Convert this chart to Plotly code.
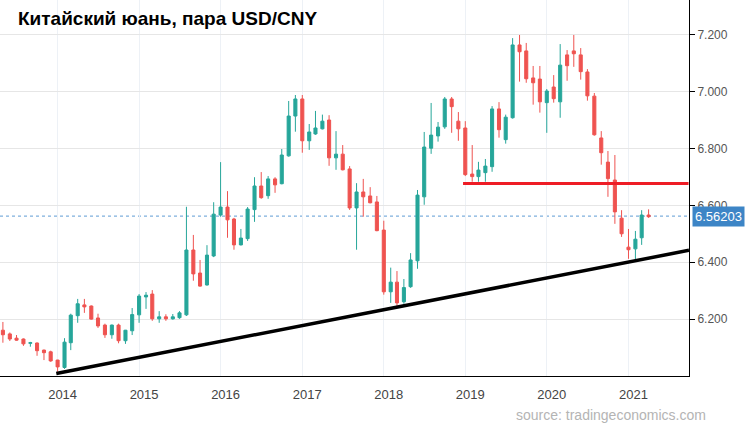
import pandas as pd
import plotly.graph_objects as go

# Monthly candles, May 2013 .. Apr 2021
months = pd.date_range("2013-05-01", periods=96, freq="MS")
opens = [6.161, 6.148, 6.133, 6.130, 6.115, 6.116, 6.091, 6.085,
         6.056, 6.030, 6.117, 6.212, 6.250, 6.246, 6.204, 6.179, 6.145, 6.179, 6.124, 6.159,
         6.215, 6.278, 6.288, 6.201, 6.208, 6.201, 6.205, 6.215, 6.443, 6.362, 6.320, 6.422,
         6.566, 6.594, 6.552, 6.461, 6.483, 6.585, 6.668, 6.634, 6.693, 6.676, 6.774, 6.914,
         6.974, 6.827, 6.851, 6.869, 6.900, 6.767, 6.780, 6.728, 6.591, 6.647, 6.633, 6.612,
         6.513, 6.296, 6.330, 6.261, 6.314, 6.405, 6.630, 6.801, 6.844, 6.876, 6.974, 6.896,
         6.872, 6.710, 6.701, 6.715, 6.736, 6.939, 6.831, 6.908, 7.164, 7.143, 7.048, 7.044,
         6.961, 7.016, 6.964, 7.129, 7.143, 7.129, 7.069, 6.984, 6.837, 6.752, 6.689, 6.555,
         6.453, 6.447, 6.486, 6.566]
highs = [6.190, 6.153, 6.144, 6.132, 6.120, 6.118, 6.093, 6.089,
         6.057, 6.133, 6.219, 6.271, 6.271, 6.248, 6.219, 6.184, 6.181, 6.184, 6.162, 6.239,
         6.288, 6.295, 6.302, 6.228, 6.217, 6.218, 6.228, 6.595, 6.496, 6.408, 6.460, 6.611,
         6.752, 6.650, 6.556, 6.517, 6.594, 6.699, 6.717, 6.703, 6.699, 6.798, 6.967, 6.988,
         6.988, 6.886, 6.932, 6.919, 6.917, 6.861, 6.812, 6.738, 6.678, 6.693, 6.664, 6.633,
         6.546, 6.381, 6.369, 6.341, 6.432, 6.654, 6.858, 6.960, 6.893, 6.981, 6.981, 6.928,
         6.896, 6.812, 6.753, 6.763, 6.949, 6.963, 6.919, 7.188, 7.199, 7.171, 7.090, 7.090,
         7.009, 7.058, 7.167, 7.146, 7.199, 7.153, 7.079, 6.995, 6.861, 6.791, 6.777, 6.583,
         6.517, 6.510, 6.583, 6.586]
lows = [6.117, 6.123, 6.124, 6.106, 6.103, 6.071, 6.056, 6.050,
        6.015, 6.025, 6.091, 6.187, 6.222, 6.198, 6.169, 6.134, 6.131, 6.115, 6.113, 6.144,
        6.187, 6.236, 6.194, 6.187, 6.194, 6.198, 6.201, 6.211, 6.335, 6.314, 6.318, 6.418,
        6.560, 6.486, 6.444, 6.459, 6.475, 6.542, 6.623, 6.623, 6.644, 6.674, 6.771, 6.859,
        6.785, 6.795, 6.848, 6.867, 6.739, 6.725, 6.723, 6.584, 6.444, 6.560, 6.607, 6.509,
        6.286, 6.257, 6.243, 6.254, 6.310, 6.377, 6.602, 6.781, 6.824, 6.869, 6.855, 6.827,
        6.703, 6.683, 6.683, 6.683, 6.718, 6.838, 6.817, 6.905, 7.035, 7.031, 6.954, 6.926,
        6.855, 6.961, 6.908, 7.038, 7.087, 7.042, 6.968, 6.845, 6.743, 6.630, 6.535, 6.489,
        6.412, 6.405, 6.461, 6.556]
closes = [6.145, 6.130, 6.126, 6.113, 6.117, 6.089, 6.082, 6.053,
          6.032, 6.119, 6.214, 6.254, 6.243, 6.200, 6.176, 6.145, 6.179, 6.124, 6.161, 6.216,
          6.281, 6.284, 6.201, 6.208, 6.201, 6.208, 6.222, 6.443, 6.359, 6.316, 6.425, 6.569,
          6.594, 6.549, 6.461, 6.485, 6.587, 6.668, 6.627, 6.693, 6.672, 6.777, 6.914, 6.974,
          6.827, 6.858, 6.872, 6.896, 6.767, 6.780, 6.725, 6.591, 6.647, 6.630, 6.609, 6.511,
          6.296, 6.330, 6.257, 6.311, 6.408, 6.636, 6.805, 6.847, 6.875, 6.974, 6.947, 6.869,
          6.708, 6.701, 6.724, 6.738, 6.939, 6.866, 6.910, 7.164, 7.140, 7.045, 7.031, 6.964,
          7.002, 6.975, 7.093, 7.091, 7.133, 7.070, 6.985, 6.848, 6.785, 6.694, 6.577, 6.500,
          6.444, 6.481, 6.566, 6.560]

last_price = 6.56203
resistance = 6.677
support_start = ("2013-12-26", 6.009)
support_end = ("2021-09-29", 6.442)
resistance_x = ("2018-12-22", "2021-09-27")

year_ticks = [f"{y}-01-01" for y in range(2014, 2022)]
year_labels = [str(y) for y in range(2014, 2022)]
y_ticks = [6.2, 6.4, 6.6, 6.8, 7.0, 7.2]
y_labels = ["6.200", "6.400", "6.600", "6.800", "7.000", "7.200"]

GREEN = "#26a69a"
RED = "#ef5350"
FONT = "Liberation Sans, Arial, sans-serif"

fig = go.Figure()
fig.add_trace(go.Candlestick(
    x=months, open=opens, high=highs, low=lows, close=closes,
    increasing=dict(line=dict(color=GREEN, width=1), fillcolor=GREEN),
    decreasing=dict(line=dict(color=RED, width=1), fillcolor=RED),
    hoverinfo="skip", showlegend=False,
))

# last price dotted line
fig.add_shape(type="line", xref="paper", yref="y", x0=0, x1=1,
              y0=last_price, y1=last_price,
              line=dict(color="#7fb0dd", width=1.2, dash="dot"), layer="below")
# resistance
fig.add_shape(type="line", xref="x", yref="y", x0=resistance_x[0], x1=resistance_x[1],
              y0=resistance, y1=resistance, line=dict(color="#ee1c25", width=3))
# support trendline
fig.add_shape(type="line", xref="x", yref="y",
              x0=support_start[0], y0=support_start[1],
              x1=support_end[0], y1=support_end[1],
              line=dict(color="#000000", width=3.5))

fig.add_annotation(xref="paper", yref="y", x=1, y=last_price, xanchor="left",
                   yanchor="middle", xshift=3, text=f"{last_price:.5f}",
                   showarrow=False, bgcolor="#3d85c6", borderpad=2,
                   font=dict(family=FONT, size=13, color="white"))
fig.add_annotation(xref="paper", yref="paper", x=16/689, y=(376-19)/376,
                   xanchor="left", yanchor="middle",
                   text="<b>Китайский юань, пара USD/CNY</b>", showarrow=False,
                   font=dict(family=FONT, size=19, color="#000000"))
fig.add_annotation(xref="paper", yref="paper", x=708/689, y=(376-415)/376,
                   xanchor="right", yanchor="middle",
                   text="source: tradingeconomics.com", showarrow=False,
                   font=dict(family="Liberation Sans Narrow, " + FONT, size=14, color="#b4b4b4"))

fig.update_layout(
    width=745, height=424,
    margin=dict(l=0, r=56, t=0, b=48),
    paper_bgcolor="white", plot_bgcolor="white",
    font=dict(family=FONT),
    xaxis=dict(type="date", range=["2013-04-18", "2021-09-29"],
               rangeslider=dict(visible=False),
               tickvals=year_ticks, ticktext=year_labels,
               showgrid=True, gridcolor="#edf1f6", gridwidth=1,
               showline=True, linecolor="#000000", linewidth=1,
               ticks="", ticklabelshift=5, ticklabelstandoff=6,
               tickfont=dict(family="Liberation Sans Narrow, " + FONT, size=13, color="#444444"),
               zeroline=False, fixedrange=True),
    yaxis=dict(side="right", range=[6.0, 7.322],
               tickvals=y_ticks, ticktext=y_labels,
               showgrid=True, gridcolor="#e6e6e6", gridwidth=1,
               showline=True, linecolor="#000000", linewidth=1,
               ticks="outside", ticklen=5, tickcolor="#000000",
               tickfont=dict(family=FONT, size=12, color="#555555"),
               zeroline=False, fixedrange=True),
    hovermode=False,
)

fig.write_html("out.html")
